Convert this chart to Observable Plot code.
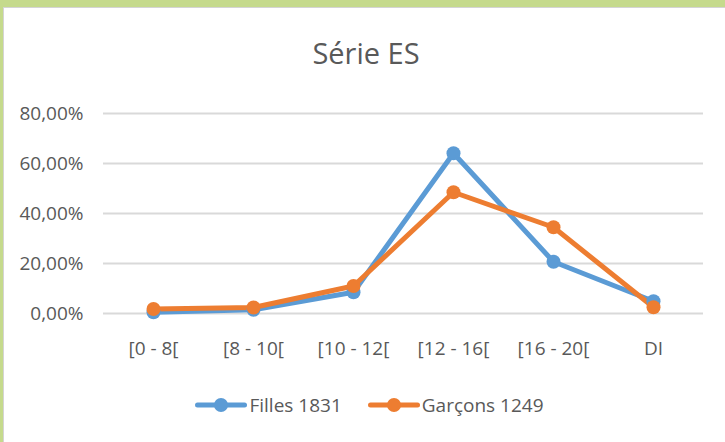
<!DOCTYPE html>
<html>
<head>
<meta charset="utf-8">
<script src="https://cdn.jsdelivr.net/npm/d3@7"></script>
<script src="https://cdn.jsdelivr.net/npm/@observablehq/plot@0.6"></script>
<style>
  html, body { margin: 0; padding: 0; }
  body { width: 725px; height: 442px; overflow: hidden; background: #c5da8c; position: relative;
         font-family: "Open Sans", sans-serif; color: #595959; }
  #card { position: absolute; left: 3px; top: 7px; width: 721px; height: 434px; background: #fff; border: 1px solid #d4d4d4; }
  #title { position: absolute; left: 0; top: 35px; width: 732px; text-align: center; font-size: 29px; line-height: 36px; color: #595959; }
  #plot { position: absolute; left: 0; top: 90px; }
  #legend { position: absolute; left: 0; top: 393px; width: 739px; display: flex; justify-content: center; align-items: center; font-size: 19px; line-height: 24px; color: #595959; }
  .item { display: flex; align-items: center; margin: 0 13px; }
  .item svg { margin-right: 2px; }
</style>
</head>
<body>
<div id="card"></div>
<div id="title">Série ES</div>
<div id="plot"></div>
<div id="legend"></div>
<script>
const categories = ["[0 - 8[", "[8 - 10[", "[10 - 12[", "[12 - 16[", "[16 - 20[", "DI"];
const filles = [0.005, 0.015, 0.085, 0.641, 0.207, 0.049];
const garcons = [0.018, 0.024, 0.11, 0.485, 0.345, 0.025];
const seriesNames = ["Filles 1831", "Garçons 1249"];
const seriesColors = ["#5b9bd5", "#ed7d31"];
const yTicks = [0, 0.2, 0.4, 0.6, 0.8];

const rows = [];
categories.forEach((c, i) => {
  rows.push({cat: c, value: filles[i], series: seriesNames[0]});
});
categories.forEach((c, i) => {
  rows.push({cat: c, value: garcons[i], series: seriesNames[1]});
});

const fmt = v => (v * 100).toFixed(2).replace(".", ",") + "%";

const chart = Plot.plot({
  width: 725,
  height: 280,
  marginTop: 23,
  marginBottom: 57,
  marginLeft: 103,
  marginRight: 22,
  style: {fontFamily: '"Open Sans", sans-serif', fontSize: "19px", color: "#595959", background: "transparent", overflow: "visible"},
  x: {type: "point", domain: categories, padding: 0.5, label: null, tickSize: 0, tickPadding: 28},
  y: {domain: [0, 0.8], ticks: yTicks, tickFormat: fmt, label: null, tickSize: 0, tickPadding: 20},
  color: {domain: seriesNames, range: seriesColors},
  marks: [
    Plot.ruleY(yTicks, {stroke: "#d9d9d9", strokeWidth: 2}),
    Plot.line(rows, {x: "cat", y: "value", z: "series", stroke: "series", strokeWidth: 5, strokeLinejoin: "round", strokeLinecap: "round"}),
    Plot.dot(rows, {x: "cat", y: "value", fill: "series", r: 7, stroke: "none"})
  ]
});
document.getElementById("plot").appendChild(chart);

const legend = document.getElementById("legend");
seriesNames.forEach((name, i) => {
  const item = document.createElement("div");
  item.className = "item";
  item.innerHTML = `<svg width="52" height="16"><line x1="2.5" y1="8" x2="49.5" y2="8" stroke="${seriesColors[i]}" stroke-width="5" stroke-linecap="round"/><circle cx="26" cy="8" r="7" fill="${seriesColors[i]}"/></svg><span>${name}</span>`;
  legend.appendChild(item);
});
</script>
</body>
</html>
